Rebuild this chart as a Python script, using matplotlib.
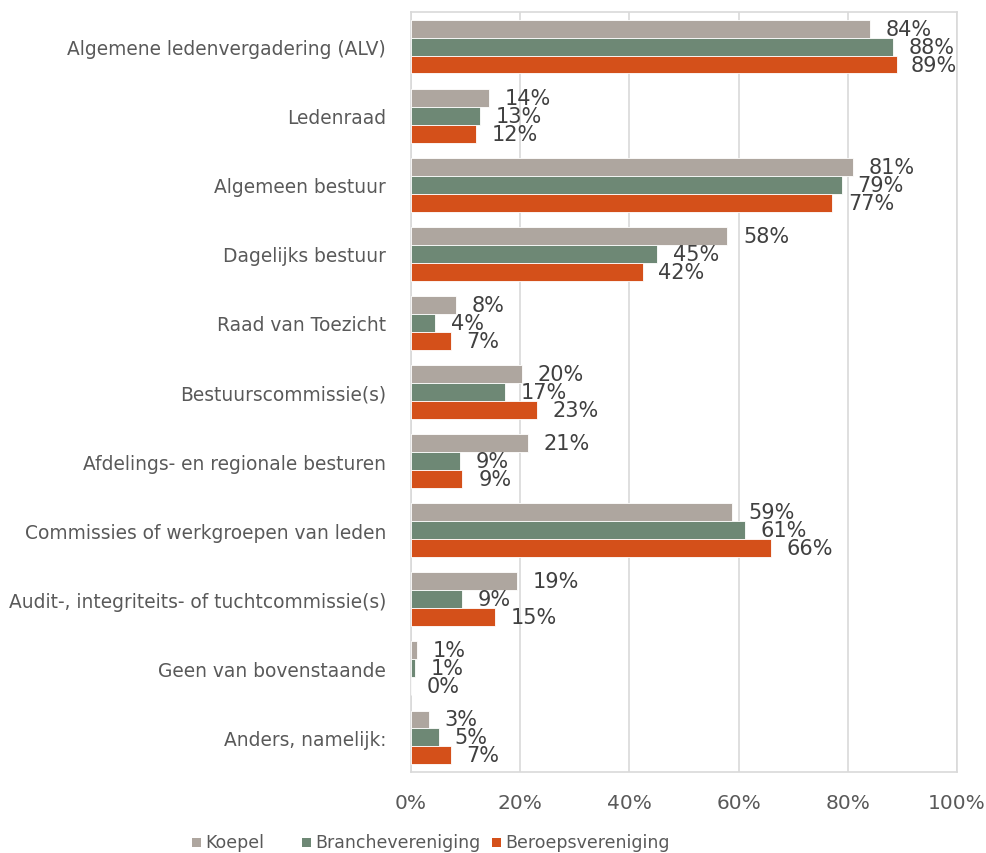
import matplotlib
matplotlib.use("Agg")
import matplotlib.pyplot as plt
from matplotlib.patches import Rectangle
import numpy as np

categories = [
    "Algemene ledenvergadering (ALV)",
    "Ledenraad",
    "Algemeen bestuur",
    "Dagelijks bestuur",
    "Raad van Toezicht",
    "Bestuurscommissie(s)",
    "Afdelings- en regionale besturen",
    "Commissies of werkgroepen van leden",
    "Audit-, integriteits- of tuchtcommissie(s)",
    "Geen van bovenstaande",
    "Anders, namelijk:",
]
series_names = ["Koepel", "Branchevereniging", "Beroepsvereniging"]
koepel = [84.1, 14.3, 81.0, 57.9, 8.2, 20.3, 21.4, 58.8, 19.4, 1.1, 3.3]
branche = [88.3, 12.6, 78.9, 45.1, 4.4, 17.2, 9.0, 61.2, 9.3, 0.7, 5.1]
beroeps = [89.0, 11.9, 77.1, 42.4, 7.3, 23.1, 9.4, 65.9, 15.4, 0.0, 7.3]
colors = ["#AEA69F", "#6E8875", "#D4501A"]
xticks = [0, 20, 40, 60, 80, 100]

W, H = 987, 854
fig = plt.figure(figsize=(W / 100, H / 100), dpi=100)
ax = fig.add_axes([411 / W, 1 - 773 / H, (957 - 411) / W, (773 - 13) / H])

n = len(categories)
y = np.arange(n)
bh = 0.26
data = [koepel, branche, beroeps]
for i, (vals, c) in enumerate(zip(data, colors)):
    pos = y + (i - 1) * bh
    ax.barh(pos, vals, height=bh, color=c, edgecolor="white", linewidth=0.6, zorder=3)
    for p, v in zip(pos, vals):
        lab = f"{round(v):d}%"
        wlab = 0.4 + 2.75 * len(lab)
        xl = min(v + 2.9, 100.2 - wlab)
        ax.text(xl, p, lab, va="center", ha="left", fontsize=15, color="#404040", zorder=4)

ax.set_xlim(0, 100)
ax.set_ylim(n - 0.5, -0.5)
ax.set_yticks(y)
ax.set_yticklabels(categories, fontsize=13.4, color="#595959")
ax.set_xticks(xticks)
ax.set_xticklabels([f"{t}%" for t in xticks], fontsize=14.5, color="#595959")
ax.tick_params(axis="both", length=0)
ax.tick_params(axis="y", pad=18)
ax.tick_params(axis="x", pad=15)
ax.grid(axis="x", color="#D9D9D9", linewidth=1.2, zorder=0)
for s in ax.spines.values():
    s.set_color("#D9D9D9")
    s.set_linewidth(1.2)

# legend
leg_x = [192, 302, 492]
for lx, name, c in zip(leg_x, series_names, colors):
    fig.add_artist(Rectangle((lx / W, 1 - 848 / H), 9 / W, 9 / H, transform=fig.transFigure,
                             facecolor=c, edgecolor="none"))
    fig.text((lx + 13) / W, 1 - 843 / H, name, fontsize=12.5, color="#595959", va="center", ha="left")

fig.savefig("out.png", dpi=100)
